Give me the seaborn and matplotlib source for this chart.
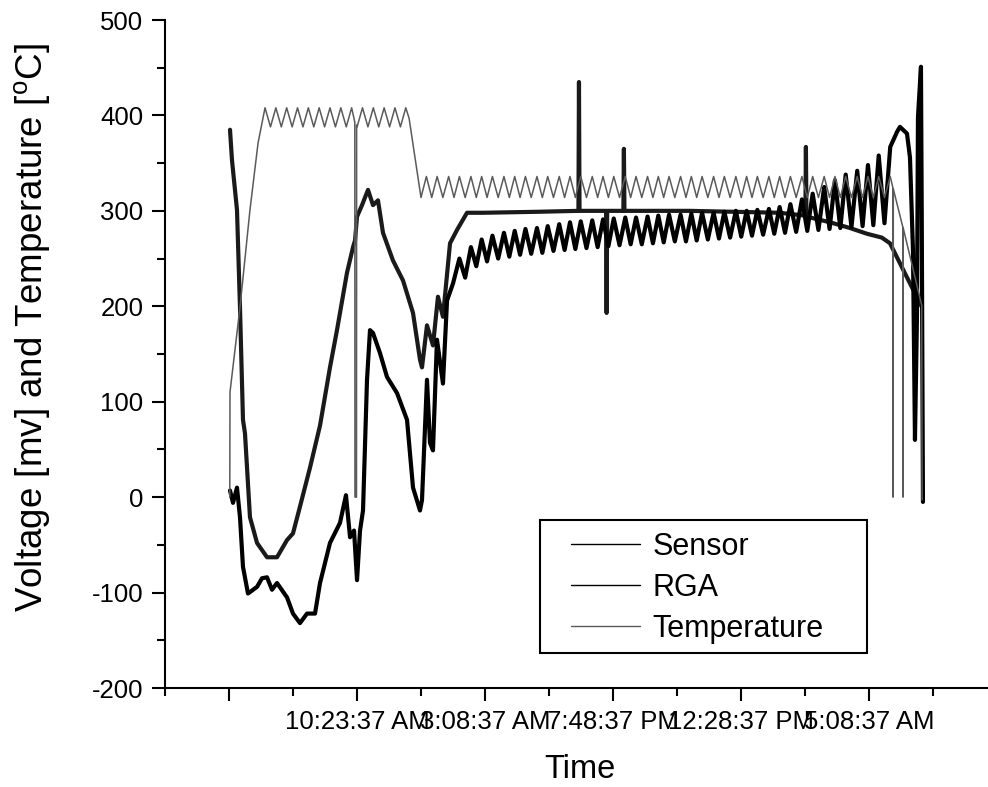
import matplotlib.pyplot as plt
import numpy as np
import pandas as pd
import seaborn as sns
from matplotlib.lines import Line2D
from matplotlib.patches import Rectangle
from matplotlib.ticker import FixedLocator, MultipleLocator

# x axis is hours after the start of the run
x_major_ticks = [0, 50 / 3, 100 / 3, 50, 200 / 3, 250 / 3]
x_tick_labels = ["", "10:23:37 AM", "3:08:37 AM", "7:48:37 PM", "12:28:37 PM", "5:08:37 AM"]

# ---- Temperature ----
temp_ramp_time = [0.10, 0.13, 1.43, 2.73, 3.78]
temp_ramp_value = [0, 110, 199, 301, 371]

# first hold (~400 C): oscillation peaks / troughs
temp_hold1_peak_time = [4.69, 6.10, 7.51, 8.92, 10.33, 11.74, 13.15, 14.56, 15.97,
                        17.38, 18.79, 20.20, 21.61, 23.02]
temp_hold1_trough_time = [5.40, 6.81, 8.22, 9.63, 11.04, 12.45, 13.86, 15.27, 16.68,
                          18.09, 19.50, 20.91, 22.32]
temp_hold1_levels = [408, 388]

# dropout to zero during the first hold
temp_dropout_time = [16.38, 16.40, 16.60, 16.62]
temp_dropout_value = [393, 0, 0, 390]

temp_cool_time = [23.45]
temp_cool_value = [397]

# second hold (~325 C)
temp_hold2_peak_time = [25.7, 27.1, 28.6, 30.0, 31.5, 32.9, 34.3, 35.8, 37.2, 38.6,
                        40.1, 41.5, 43.0, 44.4, 45.8, 47.3, 48.7, 50.1, 51.6, 53.0,
                        54.5, 55.9, 57.3, 58.8, 60.2, 61.6, 63.1, 64.5, 66.0, 67.4,
                        68.8, 70.3, 71.7, 73.1, 74.6, 76.0, 77.5, 78.9, 80.3, 81.8,
                        83.2, 84.6, 86.1]
temp_hold2_trough_time = [25.0, 26.4, 27.85, 29.3, 30.75, 32.2, 33.6, 35.05, 36.5, 37.9,
                          39.35, 40.8, 42.25, 43.7, 45.1, 46.55, 48.0, 49.4, 50.85,
                          52.3, 53.75, 55.2, 56.6, 58.05, 59.5, 60.9, 62.35, 63.8,
                          65.25, 66.7, 68.1, 69.55, 71.0, 72.4, 73.85, 75.3, 76.75,
                          78.2, 79.6, 81.05, 82.5, 83.9, 85.35]
temp_hold2_levels = [336, 314]

temp_tail_time = [86.45, 86.47, 86.50, 87.74, 87.76, 87.79, 90.20, 90.25]
temp_tail_value = [324, 0, 323, 283, 0, 282, 201, -3]

# ---- Sensor ----
sensor_time = [0.13, 0.39, 1.04, 1.43, 1.82, 2.08, 2.73, 3.65, 4.95, 6.25, 7.55, 8.33,
               9.24, 10.55, 11.85, 13.15, 14.06, 15.36, 16.15, 16.41, 16.67, 17.32,
               18.10, 18.75, 19.40, 20.05, 21.35, 22.66, 23.96, 24.87, 25.13, 25.78,
               26.56, 27.21, 27.86, 28.78, 29.69, 30.99, 33.07, 40.0, 45.50, 45.57,
               45.64, 49.10, 49.17, 49.24, 51.35, 51.42, 51.49, 60.0, 71.7, 75.05,
               75.12, 75.19, 78.26, 80.86, 83.07, 85.0, 86.07, 87.37, 88.67, 90.23]
sensor_value = [385, 353, 301, 199, 81, 67, -21, -48, -63, -63, -45, -38,
                -10, 31, 75, 136, 175, 235, 262, 269, 294, 306,
                322, 306, 311, 277, 248, 227, 193, 144, 136, 180,
                159, 210, 189, 266, 280, 298, 298, 299, 300, 435,
                300, 300, 193, 300, 300, 365, 300, 300, 298, 295,
                367, 294, 288, 282, 276, 272, 266, 245, 224, 199]

# ---- RGA ----
rga_start_time = [0.13, 0.52, 1.04, 1.43, 1.82, 2.47, 3.65, 4.30, 4.95, 5.60, 6.25,
                  7.55, 8.33, 9.24, 10.16, 11.20, 11.85, 13.15, 14.45, 15.23, 15.76,
                  16.28, 16.67, 17.06, 17.45, 17.97, 18.36, 18.75, 19.66, 20.57,
                  21.88, 23.18, 23.96, 24.87, 25.13, 25.78, 26.17, 26.56, 27.08,
                  27.86, 28.39, 29.17]
rga_start_value = [7, -6, 10, -21, -73, -101, -94, -85, -84, -97, -90,
                   -105, -122, -132, -122, -122, -90, -48, -27, 2, -42,
                   -35, -87, -35, -14, 123, 175, 172, 151, 126,
                   109, 81, 10, -14, -3, 123, 57, 49, 165,
                   119, 206, 224]
rga_tooth_top_time = temp_hold2_peak_time[3:]
rga_tooth_top = [250, 262, 270, 274, 277, 279, 281, 282, 284, 286, 288, 289, 290, 291,
                 292, 293, 293, 294, 295, 296, 296, 297, 298, 298, 299, 300, 300, 301,
                 302, 304, 307, 312, 318, 325, 332, 338, 342, 348, 358, 367]
rga_tooth_bottom_time = temp_hold2_trough_time[4:]
rga_tooth_bottom = [230, 242, 247, 250, 252, 254, 255, 256, 258, 259, 260, 261, 262,
                    263, 264, 265, 265, 266, 267, 268, 268, 269, 270, 271, 272, 273,
                    274, 275, 276, 277, 278, 279, 280, 281, 282, 283, 284, 285, 287]
rga_tail_time = [87.0, 87.37, 88.28, 88.67, 89.06, 89.32, 89.58, 89.71, 90.10, 90.20, 90.36]
rga_tail_value = [383, 388, 381, 356, 259, 60, 189, 398, 451, 300, -5]


def make_frame(*parts):
    frames = [pd.DataFrame({"time": t, "value": v}) for t, v in parts]
    return pd.concat(frames).sort_values("time").reset_index(drop=True)


temperature = make_frame(
    (temp_ramp_time, temp_ramp_value),
    (temp_hold1_peak_time, np.full(len(temp_hold1_peak_time), temp_hold1_levels[0])),
    (temp_hold1_trough_time, np.full(len(temp_hold1_trough_time), temp_hold1_levels[1])),
    (temp_dropout_time, temp_dropout_value),
    (temp_cool_time, temp_cool_value),
    (temp_hold2_peak_time, np.full(len(temp_hold2_peak_time), temp_hold2_levels[0])),
    (temp_hold2_trough_time, np.full(len(temp_hold2_trough_time), temp_hold2_levels[1])),
    (temp_tail_time, temp_tail_value),
)
sensor = make_frame((sensor_time, sensor_value))
rga = make_frame(
    (rga_start_time, rga_start_value),
    (rga_tooth_top_time, rga_tooth_top),
    (rga_tooth_bottom_time, rga_tooth_bottom),
    (rga_tail_time, rga_tail_value),
)

sns.set_style("ticks", {"axes.edgecolor": "black", "xtick.color": "black",
                        "ytick.color": "black", "text.color": "black",
                        "axes.labelcolor": "black"})
plt.rcParams['font.family'] = ['Liberation Sans', 'DejaVu Sans']
plt.rcParams['mathtext.fontset'] = 'custom'
plt.rcParams['mathtext.rm'] = 'Liberation Sans'
plt.rcParams['axes.unicode_minus'] = False

fig = plt.figure(figsize=(9.88, 7.87), dpi=100)
ax = fig.add_axes([165 / 988, 99 / 787, 823 / 988, 668 / 787])

sns.lineplot(data=sensor, x="time", y="value", ax=ax, color="#1a1a1a", lw=3.0,
             estimator=None, sort=False)
sns.lineplot(data=rga, x="time", y="value", ax=ax, color="black", lw=3.0,
             estimator=None, sort=False)
sns.lineplot(data=temperature, x="time", y="value", ax=ax, color="#5a5a5a", lw=1.1,
             estimator=None, sort=False)

ax.set_xlim(-8.334, 98.83)
ax.set_ylim(-200, 500)
ax.xaxis.set_major_locator(FixedLocator(x_major_ticks))
ax.xaxis.set_minor_locator(FixedLocator([-25 / 3, 25 / 3, 25, 125 / 3, 175 / 3, 75, 275 / 3]))
ax.set_xticklabels(x_tick_labels)
ax.yaxis.set_major_locator(MultipleLocator(100))
ax.yaxis.set_minor_locator(MultipleLocator(50))
ax.tick_params(which="major", length=9.5, width=1.5, labelsize=18.5, pad=6)
ax.tick_params(which="minor", length=5.5, width=1.5)
for side in ["left", "bottom"]:
    ax.spines[side].set_linewidth(1.5)
sns.despine(ax=ax)

ax.set_xlabel("Time", fontsize=23.5)
ax.set_ylabel(r"Voltage [mv] and Temperature [$^{\mathrm{o}}$C]", fontsize=26.5)
ax.xaxis.set_label_coords(0.504, -0.099)
ax.yaxis.set_label_coords(-0.136, 0.540)

# legend box drawn separately so the padding can match the original
fig.patches.append(Rectangle((540 / 988, 1 - 653 / 787), 327 / 988, 133 / 787,
                             transform=fig.transFigure, fill=False,
                             edgecolor="black", lw=1.5, zorder=5))
handles = [Line2D([], [], color="black", lw=1.0),
           Line2D([], [], color="black", lw=1.0),
           Line2D([], [], color="#5a5a5a", lw=1.0)]
ax.legend(handles, ["Sensor", "RGA", "Temperature"], fontsize=22,
          loc="upper left", borderaxespad=0, borderpad=0, frameon=False,
          bbox_to_anchor=(571 / 988, 1 - 532 / 787), bbox_transform=fig.transFigure,
          handlelength=2.25, handletextpad=0.42, labelspacing=0.36)

plt.savefig("out.png", dpi=100)
